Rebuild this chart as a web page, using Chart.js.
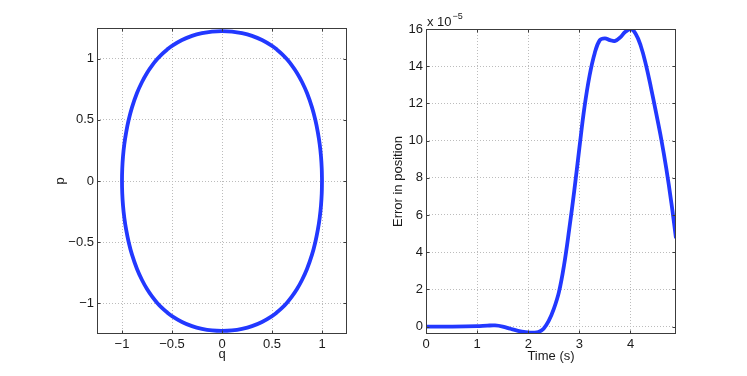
<!DOCTYPE html>
<html>
<head>
<meta charset="utf-8">
<script src="https://cdn.jsdelivr.net/npm/chart.js@4.4.1/dist/chart.umd.min.js"></script>
<style>
  html, body { margin: 0; padding: 0; background: #fff; }
  #wrap { position: relative; width: 747px; height: 376px; }
  #phaseBox { position: absolute; left: 0; top: 0; width: 380px; height: 376px; }
  #errorBox { position: absolute; left: 380px; top: 0; width: 367px; height: 376px; }
</style>
</head>
<body>
<div id="wrap">
  <div id="phaseBox"><canvas id="phaseChart"></canvas></div>
  <div id="errorBox"><canvas id="errorChart"></canvas></div>
</div>
<script>
// phase portrait, closed loop (counter-clockwise from q = 1)
const qLoop = [
  1, 0.9975, 0.99, 0.977, 0.958, 0.933, 0.9, 0.85, 0.8, 0.75, 0.7, 0.65, 0.6, 0.55, 0.5, 0.4, 0.3, 0.2, 0.1, 0,
  -0.1, -0.2, -0.3, -0.4, -0.5, -0.55, -0.6, -0.65, -0.7, -0.75, -0.8, -0.85, -0.9, -0.933, -0.958, -0.977, -0.99, -0.9975, -1,
  -0.9975, -0.99, -0.977, -0.958, -0.933, -0.9, -0.85, -0.8, -0.75, -0.7, -0.65, -0.6, -0.55, -0.5, -0.4, -0.3, -0.2, -0.1, 0,
  0.1, 0.2, 0.3, 0.4, 0.5, 0.55, 0.6, 0.65, 0.7, 0.75, 0.8, 0.85, 0.9, 0.933, 0.958, 0.977, 0.99, 0.9975, 1
];
const pLoop = [
  0, 0.1, 0.2, 0.3, 0.4, 0.5, 0.602, 0.719, 0.809, 0.883, 0.943, 0.994, 1.037, 1.073, 1.104, 1.152, 1.186, 1.208, 1.221, 1.225,
  1.221, 1.208, 1.186, 1.152, 1.104, 1.073, 1.037, 0.994, 0.943, 0.883, 0.809, 0.719, 0.602, 0.5, 0.4, 0.3, 0.2, 0.1, 0,
  -0.1, -0.2, -0.3, -0.4, -0.5, -0.602, -0.719, -0.809, -0.883, -0.943, -0.994, -1.037, -1.073, -1.104, -1.152, -1.186, -1.208, -1.221, -1.225,
  -1.221, -1.208, -1.186, -1.152, -1.104, -1.073, -1.037, -0.994, -0.943, -0.883, -0.809, -0.719, -0.602, -0.5, -0.4, -0.3, -0.2, -0.1, 0
];
const qTicks = [-1, -0.5, 0, 0.5, 1];
const pTicks = [-1, -0.5, 0, 0.5, 1];

// error in position, in units of 1e-5
const timeValues = [
  0, 0.5, 1.0, 1.2, 1.35, 1.5, 1.65, 1.8, 1.95, 2.1, 2.2, 2.3, 2.4, 2.5, 2.6, 2.7, 2.8, 2.9,
  3.0, 3.1, 3.2, 3.3, 3.4, 3.5, 3.6, 3.7, 3.8, 3.9, 4.0, 4.1, 4.2, 4.3, 4.4, 4.5, 4.6, 4.7, 4.8, 4.89
];
const errorValues = [
  0, 0, 0.02, 0.05, 0.06, 0, -0.12, -0.23, -0.3, -0.33, -0.3, -0.12, 0.3, 0.95, 1.85, 3.3, 5.2, 7.3,
  9.6, 11.8, 13.5, 14.7, 15.4, 15.5, 15.4, 15.36, 15.55, 15.85, 16.0, 15.75, 15.1, 14.1, 12.85, 11.5, 10.1, 8.5, 6.65, 4.75
];
const timeTicks = [0, 1, 2, 3, 4];
const errorTicks = [0, 2, 4, 6, 8, 10, 12, 14, 16];

const FONT = { family: "'Liberation Sans', Arial, sans-serif", size: 13 };
const TEXT = "#1a1a1a";
const LINE = "#2238ff";

const fmt = v => String(v).replace("-", "\u2212");

// box round the axes + inward tick marks, like matlab
const framePlugin = {
    id: "frame",
    afterDraw(chart, args, opts) {
        const ctx = chart.ctx;
        const a = chart.chartArea;
        const xs = chart.scales.x, ys = chart.scales.y;
        const L = Math.round(a.left) + 0.5, R = Math.round(a.right) - 0.5;
        const T = Math.round(a.top) + 0.5, B = Math.round(a.bottom) - 0.5;
        ctx.save();
        ctx.strokeStyle = "#3c3c3c";
        ctx.lineWidth = 1;
        ctx.beginPath();
        xs.ticks.forEach(t => {
            const px = Math.round(xs.getPixelForValue(t.value)) + 0.5;
            ctx.moveTo(px, B); ctx.lineTo(px, B - 3);
            ctx.moveTo(px, T); ctx.lineTo(px, T + 3);
        });
        ys.ticks.forEach(t => {
            const py = Math.round(ys.getPixelForValue(t.value)) + 0.5;
            ctx.moveTo(L, py); ctx.lineTo(L + 3, py);
            ctx.moveTo(R, py); ctx.lineTo(R - 3, py);
        });
        ctx.stroke();
        ctx.strokeRect(L, T, R - L, B - T);

        if (opts.exponent) {
            ctx.fillStyle = TEXT;
            ctx.textAlign = "left";
            ctx.textBaseline = "alphabetic";
            ctx.font = `${FONT.size}px ${FONT.family}`;
            const base = "x 10";
            ctx.fillText(base, a.left + 1, 26);
            const w = ctx.measureText(base).width;
            ctx.font = `9px ${FONT.family}`;
            ctx.fillText(opts.exponent, a.left + 1 + w + 1, 18.5);
        }
        ctx.restore();
    }
};

function axis(min, max, tickList, extra) {
    return Object.assign({
        type: "linear",
        min: min,
        max: max,
        afterBuildTicks: s => { s.ticks = tickList.map(v => ({ value: v })); },
        grid: { color: "#bcbcbc", lineWidth: 1, drawTicks: false },
        border: { display: false, dash: [1, 2] },
        ticks: { font: FONT, color: TEXT, autoSkip: false, maxRotation: 0, callback: fmt }
    }, extra);
}

function makeChart(id, points, opts) {
    const ctx = document.getElementById(id).getContext("2d");
    return new Chart(ctx, {
        type: "scatter",
        data: {
            datasets: [{
                data: points,
                showLine: true,
                borderColor: LINE,
                borderWidth: 3.8,
                pointRadius: 0,
                fill: false,
                tension: opts.tension
            }]
        },
        options: {
            responsive: true,
            maintainAspectRatio: false,
            animation: false,
            devicePixelRatio: 1,
            layout: { padding: opts.padding },
            plugins: {
                legend: { display: false },
                tooltip: { enabled: false },
                frame: { exponent: opts.exponent }
            },
            scales: opts.scales
        },
        plugins: [framePlugin]
    });
}

const phasePoints = qLoop.map((q, i) => ({ x: q, y: pLoop[i] }));
const errorPoints = timeValues.map((t, i) => ({ x: t, y: errorValues[i] }));

makeChart("phaseChart", phasePoints, {
    tension: 0.4,
    padding: { left: 0, right: 33, top: 28, bottom: 0 },
    scales: {
        x: axis(-1.25, 1.25, qTicks, {
            afterFit: s => { s.height = 42; },
            title: { display: true, text: "q", font: FONT, color: TEXT, padding: { top: 0, bottom: 14 } }
        }),
        y: axis(-1.25, 1.25, pTicks, {
            afterFit: s => { s.width = 97; },
            title: { display: true, text: "p", font: FONT, color: TEXT, padding: { top: 53, bottom: 0 } }
        })
    }
});

makeChart("errorChart", errorPoints, {
    tension: 0.4,
    exponent: "\u22125",
    padding: { left: 0, right: 71, top: 29, bottom: 0 },
    scales: {
        x: axis(0, 4.89, timeTicks, {
            afterFit: s => { s.height = 42; },
            title: { display: true, text: "Time (s)", font: FONT, color: TEXT, padding: { top: 0, bottom: 12 } }
        }),
        y: axis(-0.4, 16, errorTicks, {
            afterFit: s => { s.width = 46; },
            title: { display: true, text: "Error in position", font: FONT, color: TEXT, padding: { top: 11, bottom: 0 } }
        })
    }
});
</script>
</body>
</html>
